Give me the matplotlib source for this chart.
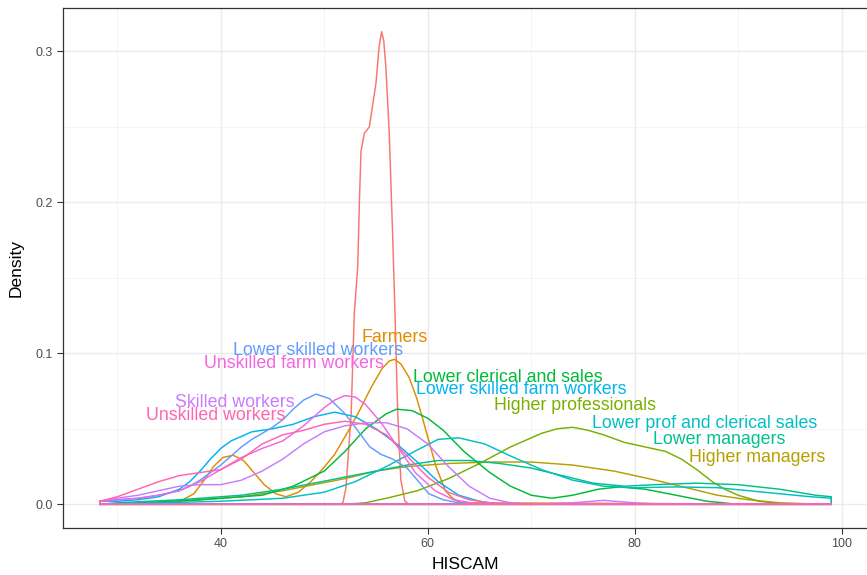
import matplotlib
matplotlib.use("Agg")
import matplotlib.pyplot as plt
from matplotlib.ticker import MultipleLocator

plt.rcParams['font.family'] = ['Liberation Sans', 'DejaVu Sans']

# ---- data (density curves) ----
groups = ["Other", "Farmers", "Higher managers", "Higher professionals",
          "Lower clerical and sales", "Lower managers", "Lower prof and clerical sales",
          "Lower skilled farm workers", "Lower skilled workers", "Skilled workers",
          "Unskilled farm workers", "Unskilled workers"]

other_x = [28.3, 51.5, 51.8, 52.1, 52.6, 52.9, 53.07, 53.23, 53.4, 53.55, 53.88, 54.36, 55.0, 55.3,
           55.54, 55.75, 55.95, 56.28, 56.6, 56.8, 57.1, 57.4, 57.8, 58.2, 99.0]
other_y = [0, 0, 0.001, 0.011, 0.06, 0.126, 0.142, 0.157, 0.201, 0.234, 0.2457, 0.25, 0.279, 0.303,
           0.313, 0.307, 0.29, 0.246, 0.18, 0.135, 0.06, 0.016, 0.002, 0, 0]

farmers_x = [28.3, 34.0, 35.8, 37.4, 38.4, 39.3, 40.2, 41.2, 42.2, 43.2, 44.2, 45.3, 46.3, 47.5, 48.7,
             49.8, 51.0, 52.2, 53.4, 54.5, 55.6, 56.3, 56.8, 57.4, 58.2, 58.9, 59.5, 60.1, 60.8, 61.7,
             62.4, 63.2, 99.0]
farmers_y = [0, 0, 0.001, 0.007, 0.016, 0.025, 0.031, 0.0325, 0.029, 0.021, 0.013, 0.007, 0.005, 0.008,
             0.015, 0.023, 0.033, 0.047, 0.062, 0.077, 0.090, 0.095, 0.096, 0.093, 0.084, 0.071, 0.057,
             0.042, 0.025, 0.009, 0.004, 0.001, 0]

hman_x = [28.3, 30, 34, 38, 42, 46, 49, 52, 55, 58, 62, 66, 70, 74, 78, 82, 85, 88, 91, 94, 97, 99]
hman_y = [0, 0, 0.001, 0.003, 0.005, 0.009, 0.013, 0.017, 0.022, 0.025, 0.027, 0.028, 0.028, 0.026,
          0.022, 0.016, 0.011, 0.006, 0.003, 0.001, 0.0003, 0]

hprof_x = [28.3, 52, 54, 56, 59, 62, 65, 68, 71, 72.5, 74, 75.5, 77, 79, 81, 83, 84.5, 86, 87.5,
           88.7, 90, 92, 94, 99]
hprof_y = [0, 0, 0.001, 0.004, 0.009, 0.017, 0.027, 0.038, 0.047, 0.050, 0.051, 0.049, 0.046, 0.041,
           0.038, 0.035, 0.030, 0.023, 0.015, 0.010, 0.006, 0.002, 0.0005, 0]

lcler_x = [28.3, 32, 38, 44, 47, 50, 52, 54, 56, 57, 58.5, 60, 61.5, 63.5, 66, 68, 70, 72, 74, 76.5,
           78.5, 81, 84, 87, 90, 99]
lcler_y = [0, 0.001, 0.003, 0.006, 0.012, 0.022, 0.035, 0.050, 0.060, 0.063, 0.062, 0.057, 0.049,
           0.035, 0.021, 0.012, 0.006, 0.004, 0.006, 0.010, 0.0115, 0.010, 0.006, 0.002, 0, 0]

lman_x = [28.3, 30, 36, 42, 46, 49, 52, 55, 58, 61, 64, 67, 70, 73, 76, 79, 82, 86, 90, 94, 97.5, 99]
lman_y = [0, 0.001, 0.003, 0.006, 0.010, 0.014, 0.018, 0.022, 0.026, 0.029, 0.029, 0.027, 0.024,
          0.019, 0.014, 0.012, 0.013, 0.014, 0.013, 0.010, 0.006, 0.005]

lprof_x = [28.3, 34, 40, 46, 50, 53, 56, 59, 61, 63, 65.5, 68, 71, 74, 77, 80, 84, 88, 91, 94, 97, 99]
lprof_y = [0, 0.001, 0.002, 0.004, 0.008, 0.015, 0.025, 0.036, 0.043, 0.044, 0.040, 0.032, 0.023,
           0.016, 0.012, 0.011, 0.0115, 0.011, 0.009, 0.007, 0.005, 0.004]

lsfw_x = [28.3, 30, 32, 34, 36, 37, 38, 39, 40, 41, 43, 45, 47, 49, 51, 53, 55, 57, 59, 61, 63, 65,
          67, 99]
lsfw_y = [0.002, 0.002, 0.003, 0.005, 0.010, 0.015, 0.022, 0.030, 0.037, 0.042, 0.048, 0.050, 0.053,
          0.058, 0.061, 0.058, 0.050, 0.040, 0.028, 0.015, 0.006, 0.002, 0, 0]

lsw_x = [28.3, 30, 32, 34, 36, 37, 38, 39, 40, 41, 42, 43, 44, 45, 46, 47, 48, 49.2, 50.5, 52, 53,
         54.4, 55.5, 56.6, 58, 59, 60.1, 61.5, 63, 65, 67, 99]
lsw_y = [0.002, 0.003, 0.004, 0.006, 0.009, 0.012, 0.016, 0.021, 0.026, 0.032, 0.038, 0.043, 0.047,
         0.051, 0.056, 0.063, 0.069, 0.073, 0.070, 0.060, 0.051, 0.038, 0.033, 0.030, 0.024, 0.016,
         0.007, 0.003, 0.001, 0, 0, 0]

sk_x = [28.3, 30, 32, 34, 36, 38, 40, 42, 44, 46, 48, 50, 52, 54, 56, 58, 60, 62, 64, 66, 68, 70,
        74, 77, 80, 83, 99]
sk_y = [0.002, 0.004, 0.006, 0.009, 0.012, 0.013, 0.013, 0.016, 0.022, 0.030, 0.040, 0.048, 0.052,
        0.054, 0.054, 0.050, 0.040, 0.025, 0.012, 0.004, 0.001, 0, 0.001, 0.0026, 0.001, 0, 0]

ufw_x = [28.3, 32, 34, 36, 38, 40, 42, 44, 46, 48, 50, 51, 52, 53, 54, 55.5, 57, 58.8, 60.7, 62.5,
         65, 99]
ufw_y = [0.002, 0.004, 0.006, 0.009, 0.015, 0.023, 0.031, 0.037, 0.042, 0.052, 0.064, 0.069, 0.072,
         0.071, 0.066, 0.054, 0.039, 0.021, 0.009, 0.003, 0, 0]

usw_x = [28.3, 30, 32, 34, 36, 38, 40, 42, 44, 46, 48, 50, 52, 54, 56, 58, 60, 62, 64, 66, 68, 99]
usw_y = [0.002, 0.005, 0.010, 0.015, 0.019, 0.021, 0.023, 0.030, 0.040, 0.046, 0.049, 0.053, 0.055,
         0.053, 0.046, 0.032, 0.018, 0.008, 0.003, 0.001, 0, 0]

curves_x = [other_x, farmers_x, hman_x, hprof_x, lcler_x, lman_x, lprof_x, lsfw_x, lsw_x, sk_x,
            ufw_x, usw_x]
curves_y = [other_y, farmers_y, hman_y, hprof_y, lcler_y, lman_y, lprof_y, lsfw_y, lsw_y, sk_y,
            ufw_y, usw_y]

colors = ["#F8766D", "#DE8C00", "#B79F00", "#7CAE00", "#00BA38", "#00C08B", "#00BFC4",
          "#00B4F0", "#619CFF", "#C77CFF", "#F564E3", "#FF64B0"]

# direct label anchors (text positions)
label_names = ["Farmers", "Lower skilled workers", "Unskilled farm workers", "Lower clerical and sales",
               "Lower skilled farm workers", "Higher professionals", "Skilled workers",
               "Unskilled workers", "Lower prof and clerical sales", "Lower managers", "Higher managers"]
label_x = [56.8, 49.44, 47.04, 67.73, 69.07, 74.25, 41.38, 39.46, 86.73, 88.12, 91.81]
label_y = [0.1106, 0.102, 0.0934, 0.0841, 0.0758, 0.0656, 0.0675, 0.0589, 0.0536, 0.043, 0.0311]

# ---- figure ----
fig = plt.figure(figsize=(8.67, 5.75), dpi=100)
W, H = 867, 575
left, right, top, bottom = 63, 868, 8, 528
ax = fig.add_axes([left / W, (H - bottom) / H, (right - left) / W, (bottom - top) / H])

for xs, ys, c in zip(curves_x, curves_y, colors):
    px = list(xs) + [xs[-1], xs[0], xs[0]]
    py = list(ys) + [0.0, 0.0, ys[0]]
    ax.plot(px, py, color=c, lw=1.05, solid_joinstyle='round', zorder=3)

for name, lx, ly in zip(label_names, label_x, label_y):
    c = colors[groups.index(name)]
    ax.text(lx, ly, name, color=c, fontsize=12.8, ha='center', va='center', zorder=4)

ax.set_xlim(24.75, 102.55)
ax.set_ylim(-0.0157, 0.3287)
ax.xaxis.set_minor_locator(MultipleLocator(10))
ax.yaxis.set_minor_locator(MultipleLocator(0.05))
ax.set_xticks([40, 60, 80, 100])
ax.set_xticklabels(["40", "60", "80", "100"])
ax.set_yticks([0.0, 0.1, 0.2, 0.3])
ax.set_yticklabels(["0.0", "0.1", "0.2", "0.3"])
ax.grid(True, which='major', color='#EBEBEB', lw=1.0, zorder=0)
ax.grid(True, which='minor', color='#F3F3F3', lw=0.6, zorder=0)
ax.set_axisbelow(True)
ax.tick_params(which='major', direction='out', length=4, width=0.8, color='#333333',
               labelcolor='#4D4D4D', labelsize=9)
ax.tick_params(which='minor', length=0)
for s in ax.spines.values():
    s.set_color('#333333')
    s.set_linewidth(0.9)
ax.set_xlabel("HISCAM", fontsize=12.5, color='black', labelpad=5)
ax.set_ylabel("Density", fontsize=12.5, color='black', labelpad=8)

fig.savefig("out.png", dpi=100)
